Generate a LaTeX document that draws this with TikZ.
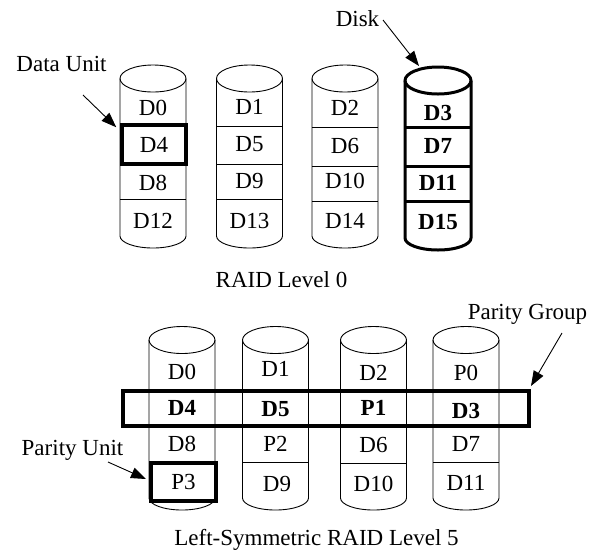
\documentclass[tikz,border=0pt]{standalone}
\usepackage{fontspec}
\setmainfont{Liberation Serif}
\usetikzlibrary{arrows.meta}

% cylinder outline: #1 style, #2 centre x, #3 top-face centre y, #4 bottom-arc centre y
\newcommand\diskbody[4]{%
  \draw[#1] (#2,#3) ellipse (33 and 13.5);
  \draw[#1] (#2-33,#3) -- (#2-33,#4) arc (180:360:33 and 12) -- (#2+33,#3);
}
% horizontal divider across a cylinder: #1 style, #2 centre x, #3 y
\newcommand\diskrule[3]{\draw[#1] (#2-33,#3) -- (#2+33,#3);}

\tikzset{
  txt/.style={font=\fontsize{23}{27}\selectfont, inner sep=0pt},
  lbl/.style={txt, anchor=base},
  cell/.style={txt},
  boldcell/.style={txt, font=\fontsize{23}{27}\selectfont\bfseries},
  thinline/.style={line width=0.9pt},
  heavyline/.style={line width=3pt, line join=round},
  markbox/.style={draw, line width=4pt, inner sep=0pt, txt},
  pointer/.style={line width=0.9pt, -{Triangle[length=15pt,width=11pt]}},
}

\begin{document}
\begin{tikzpicture}[x=1pt,y=1pt]
\useasboundingbox (0,0) rectangle (600,-550);

% ---------------- RAID level 0 ----------------
\diskbody{thinline}{153}{-78.5}{-236}
\diskrule{thinline}{153}{-199}
\diskbody{thinline}{249.5}{-78.5}{-236}
\diskrule{thinline}{249.5}{-126}
\diskrule{thinline}{249.5}{-164}
\diskrule{thinline}{249.5}{-199}
\diskbody{thinline}{345}{-78.5}{-236}
\diskrule{thinline}{345}{-127}
\diskrule{thinline}{345}{-166}
\diskrule{thinline}{345}{-201}
\diskbody{heavyline}{438}{-80.5}{-238}
\diskrule{heavyline}{438}{-127}
\diskrule{heavyline}{438}{-166}
\diskrule{heavyline}{438}{-201}

\node[cell] (a0) at (153,-108) {D0};
\node[markbox, minimum width=64.5, minimum height=38.5] (unitbox) at (154,-144.5) {D4};
\node[cell] (a8) at (153,-183) {D8};
\node[cell] (a12) at (153,-220.5) {D12};

\node[cell] (a1) at (249.5,-107) {D1};
\node[cell] (a5) at (249.5,-144) {D5};
\node[cell] (a9) at (249.5,-181) {D9};
\node[cell] (a13) at (249.5,-221) {D13};

\node[cell] (a2) at (345,-108) {D2};
\node[cell] (a6) at (345,-146) {D6};
\node[cell] (a10) at (345,-181) {D10};
\node[cell] (a14) at (345,-221) {D14};

\node[boldcell] (a3) at (438,-113) {D3};
\node[boldcell] (a7) at (438,-146) {D7};
\node[boldcell] (a11) at (438,-183) {D11};
\node[boldcell] (a15) at (438,-222) {D15};

\node[lbl] (title0) at (281.5,-287) {RAID Level 0};

\node[lbl] (dataunit) at (61.5,-71.5) {Data Unit};
\coordinate (dutail) at (83,-95);
\draw[pointer] (dutail) -- ([shift={(-3.5pt,-4pt)}]unitbox.north west);

\node[lbl] (disklbl) at (357.5,-26.5) {Disk};
\coordinate (disktail) at (383,-20);
\coordinate (diskrim) at (419,-66);
\draw[pointer] (disktail) -- (diskrim);

% ---------------- Left-symmetric RAID level 5 ----------------
\diskbody{thinline}{182}{-340}{-498}
\diskbody{thinline}{275.5}{-340}{-498}
\diskrule{thinline}{275.5}{-462}
\diskbody{thinline}{373.5}{-340}{-498}
\diskrule{thinline}{373.5}{-463}
\diskbody{thinline}{466}{-340}{-498}
\diskrule{thinline}{466}{-462}

\node[markbox, minimum width=406, minimum height=35] (group) at (326,-408.5) {};
\node[markbox, minimum width=65, minimum height=38] (p3box) at (183.5,-482) {P3};

\node[cell] (b0) at (182,-372) {D0};
\node[boldcell] (b4) at (182,-407.5) {D4};
\node[cell] (b8) at (182,-444) {D8};

\node[cell] (b1) at (275.5,-369) {D1};
\node[boldcell] (b5) at (275.5,-409) {D5};
\node[cell] (bp2) at (275.5,-444) {P2};
\node[cell] (b9) at (277,-484) {D9};

\node[cell] (b2) at (373.5,-373) {D2};
\node[boldcell] (bp1) at (373.5,-408) {P1};
\node[cell] (b6) at (373.5,-445) {D6};
\node[cell] (b10) at (373.5,-484) {D10};

\node[cell] (bp0) at (466,-373) {P0};
\node[boldcell] (b3) at (466,-411) {D3};
\node[cell] (b7) at (466,-444) {D7};
\node[cell] (b11) at (466,-483) {D11};

\node[lbl] (title5) at (316.5,-545) {Left-Symmetric RAID Level 5};

\node[lbl] (pglbl) at (527.5,-319) {Parity Group};
\coordinate (pgtail) at (562,-333);
\draw[pointer] (pgtail) -- ([yshift=3pt]group.north east);

\node[lbl] (pulbl) at (72.5,-455) {Parity Unit};
\coordinate (putail) at (108,-462);
\draw[pointer] (putail) -- ([shift={(-3pt,3pt)}]p3box.west);
\end{tikzpicture}
\end{document}
